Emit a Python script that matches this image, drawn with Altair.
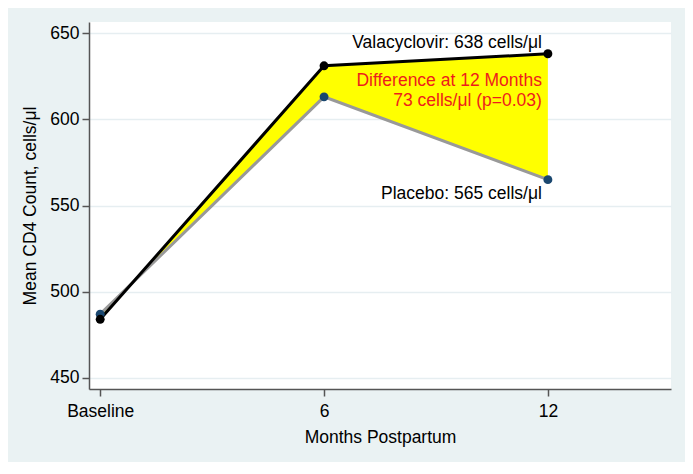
import altair as alt
import pandas as pd

months = [0, 6, 12]
tick_labels = ["Baseline", "6", "12"]
valacyclovir = [484, 631, 638]
placebo = [487, 613, 565]
y_ticks = [450, 500, 550, 600, 650]

FONT = "Liberation Sans"
FS = 17.5

wide = pd.DataFrame({"month": months, "val": valacyclovir, "plac": placebo})
long_val = pd.DataFrame({"month": months, "cd4": valacyclovir})
long_plac = pd.DataFrame({"month": months, "cd4": placebo})

label_expr = " : ".join(
    f"datum.value == {m} ? '{t}'" for m, t in zip(months[:-1], tick_labels[:-1])
) + f" : '{tick_labels[-1]}'"

xscale = alt.Scale(domain=[-0.3, 15.3], nice=False, zero=False)
yscale = alt.Scale(domain=[443.6, 656.4], nice=False, zero=False)

xaxis = alt.Axis(values=months, labelExpr=label_expr, title="Months Postpartum",
                 grid=False, tickSize=7, labelPadding=6, titlePadding=9,
                 labelFontSize=FS, titleFontSize=FS, labelFont=FONT, titleFont=FONT,
                 labelColor="black", titleColor="black", titleFontWeight="normal",
                 domainColor="#555555", domainWidth=1.5, tickColor="#555555", tickWidth=1.5)
yaxis = alt.Axis(values=y_ticks, title="Mean CD4 Count, cells/μl", grid=True,
                 gridColor="#E6EEF1", gridWidth=1.5,
                 tickSize=7, labelPadding=3, titlePadding=10,
                 labelFontSize=FS, titleFontSize=FS, labelFont=FONT, titleFont=FONT,
                 labelColor="black", titleColor="black", titleFontWeight="normal",
                 domainColor="#555555", domainWidth=1.5, tickColor="#555555", tickWidth=1.5)

area = alt.Chart(wide).mark_area(color="#FFFF00", opacity=1).encode(
    x=alt.X("month:Q", scale=xscale, axis=xaxis),
    y=alt.Y("val:Q", scale=yscale, axis=yaxis),
    y2="plac:Q",
)

plac_line = alt.Chart(long_plac).mark_line(color="#999999", strokeWidth=3).encode(
    x=alt.X("month:Q", scale=xscale), y=alt.Y("cd4:Q", scale=yscale))
plac_pts = alt.Chart(long_plac).mark_circle(color="#1A476F", size=80, opacity=1).encode(
    x=alt.X("month:Q", scale=xscale), y=alt.Y("cd4:Q", scale=yscale))
val_line = alt.Chart(long_val).mark_line(color="black", strokeWidth=3).encode(
    x=alt.X("month:Q", scale=xscale), y=alt.Y("cd4:Q", scale=yscale))
val_pts = alt.Chart(long_val).mark_circle(color="black", size=80, opacity=1).encode(
    x=alt.X("month:Q", scale=xscale), y=alt.Y("cd4:Q", scale=yscale))

last_val = pd.DataFrame({"month": [months[-1]], "cd4": [valacyclovir[-1]],
                         "txt": [f"Valacyclovir: {valacyclovir[-1]} cells/μl"]})
last_plac = pd.DataFrame({"month": [months[-1]], "cd4": [placebo[-1]],
                          "txt": [f"Placebo: {placebo[-1]} cells/μl"]})
diff = valacyclovir[-1] - placebo[-1]
diff_df = pd.DataFrame({"month": [months[-1]], "cd4": [valacyclovir[-1]],
                        "txt": [["Difference at 12 Months", f"{diff} cells/μl (p=0.03)"]]})

val_lab = alt.Chart(last_val).mark_text(align="right", baseline="alphabetic", dx=-6, dy=-6,
                                        fontSize=FS, font=FONT, color="black").encode(
    x=alt.X("month:Q", scale=xscale), y=alt.Y("cd4:Q", scale=yscale), text="txt:N")
plac_lab = alt.Chart(last_plac).mark_text(align="right", baseline="alphabetic", dx=-6, dy=19,
                                          fontSize=FS, font=FONT, color="black").encode(
    x=alt.X("month:Q", scale=xscale), y=alt.Y("cd4:Q", scale=yscale), text="txt:N")
diff_lab = alt.Chart(diff_df).mark_text(align="right", baseline="alphabetic", dx=-6, dy=32,
                                        lineHeight=20, fontSize=FS, font=FONT, color="#EE1C1C").encode(
    x=alt.X("month:Q", scale=xscale), y=alt.Y("cd4:Q", scale=yscale), text="txt")

chart = alt.layer(area, plac_line, val_line, plac_pts, val_pts, val_lab, diff_lab, plac_lab).properties(
    width=582, height=367,
    padding={"left": 13, "top": 14, "right": 14, "bottom": 16},
    background="#EAF2F3",
).configure_view(fill="white", stroke=None)

chart.save("out.html", embed_options={"renderer": "svg", "actions": False})
